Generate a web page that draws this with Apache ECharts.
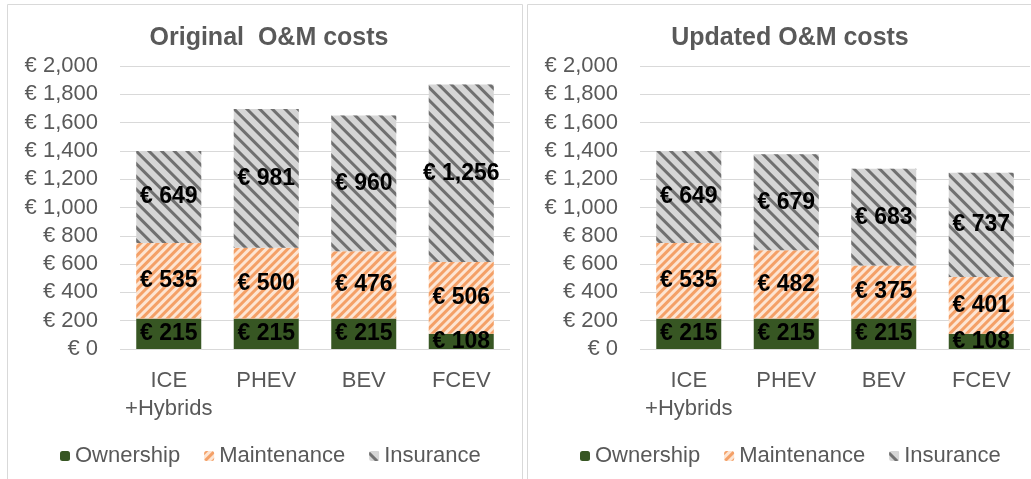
<!DOCTYPE html>
<html>
<head>
<meta charset="utf-8">
<script src="https://cdn.jsdelivr.net/npm/echarts@6/dist/echarts.min.js"></script>
<style>
  html, body { margin: 0; padding: 0; background: #fff; }
  #chart { width: 1031px; height: 479px; }
</style>
</head>
<body>
<div id="chart"></div>
<script>
const categories = ['ICE\n+Hybrids', 'PHEV', 'BEV', 'FCEV']
const seriesNames = ['Ownership', 'Maintenance', 'Insurance']
const yTicks = { min: 0, max: 2000, interval: 200 }

const originalOwnership = [215, 215, 215, 108]
const originalMaintenance = [535, 500, 476, 506]
const originalInsurance = [649, 981, 960, 1256]

const updatedOwnership = [215, 215, 215, 108]
const updatedMaintenance = [535, 482, 375, 401]
const updatedInsurance = [649, 679, 683, 737]

const font = 'Liberation Sans'
const grey = '#595959'
const euro = v => '€ ' + Number(v).toLocaleString('en-US')

// look of each cost type
const styles = {
    Ownership: { color: '#375623' },
    Maintenance: {
        color: '#fde5d3',
        decal: { symbol: 'rect', symbolSize: 1, dashArrayX: [1, 0], dashArrayY: [2.5, 2.5], rotation: -Math.PI / 4, color: '#f4a067' },
    },
    Insurance: {
        color: '#d6d6d6',
        decal: { symbol: 'rect', symbolSize: 1, dashArrayX: [1, 0], dashArrayY: [3, 6], rotation: Math.PI / 4, color: '#707070' },
    },
}

function makeSeries(idx, values) {
    return values.map((data, i) => ({
        name: seriesNames[i],
        type: 'bar',
        stack: 'cost' + idx,
        xAxisIndex: idx,
        yAxisIndex: idx,
        barWidth: 65,
        data: data,
        itemStyle: styles[seriesNames[i]],
        label: {
            show: true,
            position: 'inside',
            formatter: p => euro(p.value),
            color: '#000',
            fontFamily: font,
            fontWeight: 'bold',
            fontSize: 23,
        },
        emphasis: { disabled: true },
    }))
}

const grids = [
    { left: 120, top: 66, width: 390, height: 283 },
    { left: 640, top: 66, width: 390, height: 283 },
]

const chart = echarts.init(document.getElementById('chart'))
chart.setOption({
    animation: false,
    graphic: [
        { type: 'rect', shape: { x: 7.5, y: 4.5, width: 515, height: 520 }, style: { fill: 'none', stroke: '#d9d9d9', lineWidth: 1 } },
        { type: 'rect', shape: { x: 527.5, y: 4.5, width: 520, height: 520 }, style: { fill: 'none', stroke: '#d9d9d9', lineWidth: 1 } },
    ],
    title: [
        { text: 'Original  O&M costs', left: 264, top: 21, textAlign: 'center', textStyle: { fontFamily: font, fontSize: 25, fontWeight: 'bold', color: grey } },
        { text: 'Updated O&M costs', left: 785, top: 21, textAlign: 'center', textStyle: { fontFamily: font, fontSize: 25, fontWeight: 'bold', color: grey } },
    ],
    legend: [
        { data: seriesNames.slice(), left: 55, top: 440, itemWidth: 10, itemHeight: 10, itemGap: 24, textStyle: { fontFamily: font, fontSize: 22, color: grey } },
        { data: seriesNames.slice(), left: 575, top: 440, itemWidth: 10, itemHeight: 10, itemGap: 24, textStyle: { fontFamily: font, fontSize: 22, color: grey } },
    ],
    grid: grids,
    xAxis: grids.map((g, i) => ({
        type: 'category',
        gridIndex: i,
        data: categories,
        axisLine: { show: false },
        axisTick: { show: false },
        axisLabel: { interval: 0, color: grey, fontFamily: font, fontSize: 22, lineHeight: 28, margin: 18 },
    })),
    yAxis: grids.map((g, i) => ({
        type: 'value',
        gridIndex: i,
        min: yTicks.min,
        max: yTicks.max,
        interval: yTicks.interval,
        axisLine: { show: false },
        axisTick: { show: false },
        splitLine: { lineStyle: { color: '#d9d9d9', width: 1 } },
        axisLabel: { color: grey, fontFamily: font, fontSize: 22, margin: 22, formatter: euro },
    })),
    series: [
        ...makeSeries(0, [originalOwnership, originalMaintenance, originalInsurance]),
        ...makeSeries(1, [updatedOwnership, updatedMaintenance, updatedInsurance]),
    ],
})
</script>
</body>
</html>
